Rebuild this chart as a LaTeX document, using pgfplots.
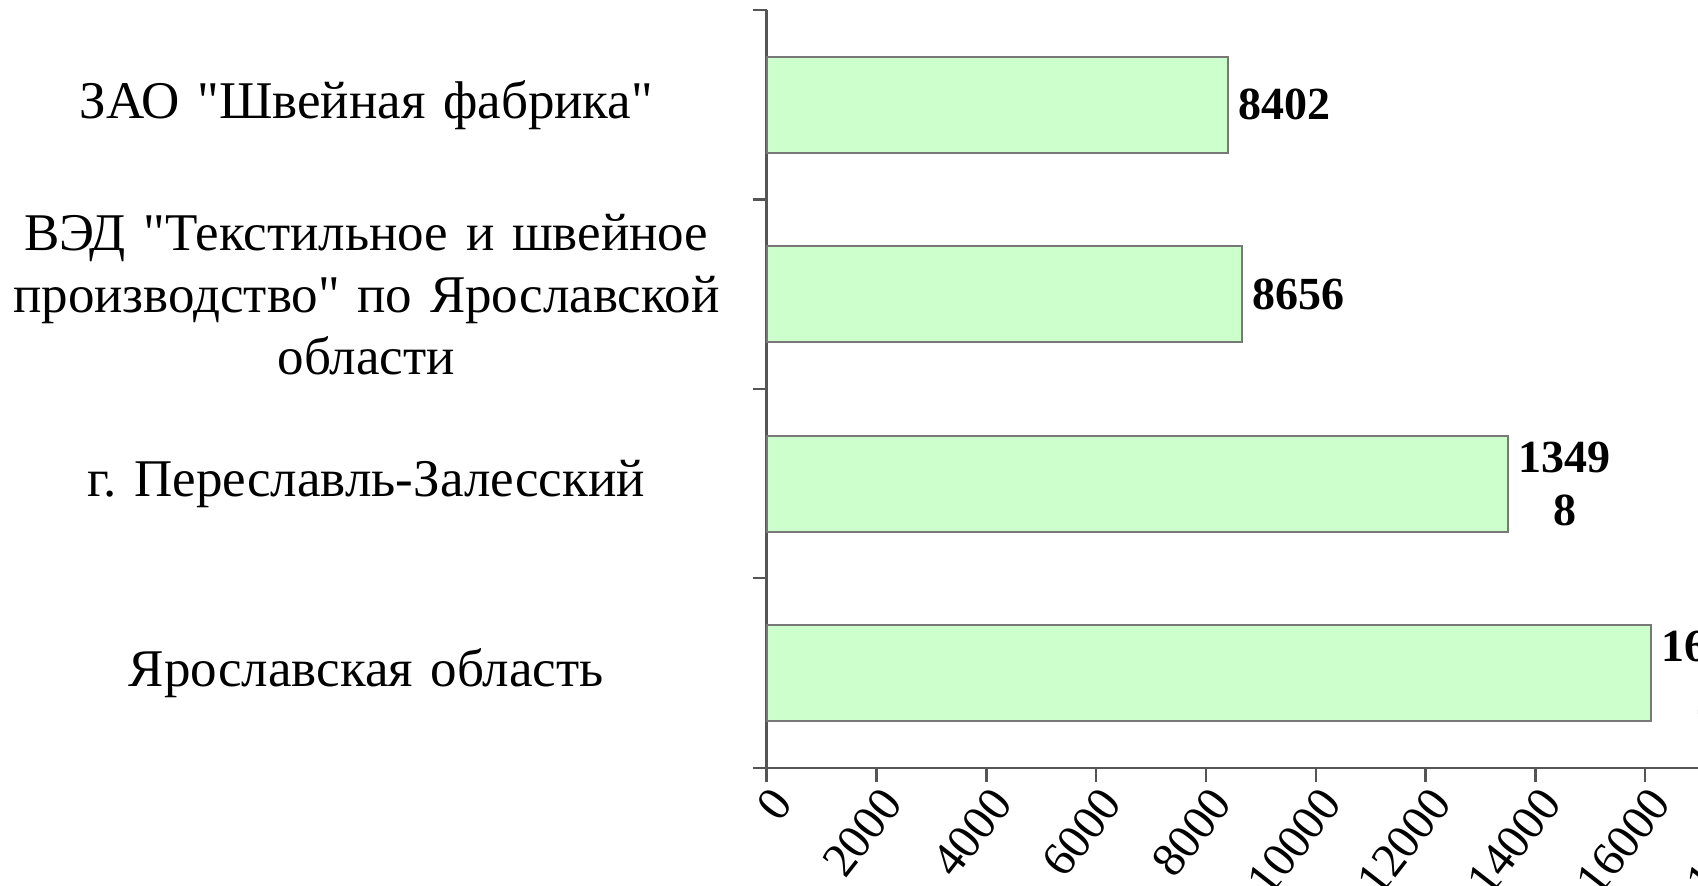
\documentclass[border=0pt]{standalone}
\usepackage{fontspec}
\setmainfont{Liberation Serif}
\usepackage{pgfplots}
\pgfplotsset{compat=1.18}
\frenchspacing
\definecolor{barfill}{RGB}{204,255,204}
\definecolor{baredge}{RGB}{120,120,120}
\definecolor{axisgray}{RGB}{85,85,85}
\newcommand{\q}{\textquotedbl}
\begin{document}
\begin{tikzpicture}
\begin{axis}[
    at={(0,0)}, anchor=south west,
    scale only axis,
    width=247.05pt, height=189.425pt,
    xbar, bar width=24pt,
    xmin=0, xmax=18000,
    ymin=-0.5, ymax=3.5,
    y dir=reverse,
    enlargelimits=false,
    axis lines*=left,
    axis line style={axisgray, line width=0.6pt},
    tick style={axisgray, line width=0.6pt},
    tick align=outside,
    major tick length=3.5pt,
    xtick={0,2000,...,18000},
    scaled x ticks=false,
    xticklabel style={/pgf/number format/assume math mode=true,
        /pgf/number format/1000 sep={},
        font=\fontsize{12pt}{14pt}\selectfont,
        rotate=52, anchor=east, inner sep=0pt, yshift=-5pt},
    ytick={-0.5,0.5,1.5,2.5,3.5},
    yticklabels={},
    extra y ticks={0,1,2,3},
    extra y tick labels={
        {ЗАО \q Швейная фабрика\q},
        {ВЭД \q Текстильное и швейное\\производство\q\ по Ярославской\\области},
        {г. Переславль-Залесский},
        {Ярославская область}},
    extra y tick style={major tick length=0pt,
        yticklabel style={text width=190pt, align=center, inner sep=0pt,
            anchor=east, xshift=-4.9pt,
            font=\fontsize{13.25pt}{15.5pt}\selectfont}},
    point meta=explicit symbolic,
    nodes near coords,
    nodes near coords style={anchor=west, align=center, inner sep=0pt,
        xshift=2.5pt, font=\fontsize{11.5pt}{13.25pt}\selectfont\bfseries},
    clip=false,
]
\addplot[fill=barfill, draw=baredge, line width=0.5pt] coordinates {
    (8402,0) [8402]
    (8656,1) [8656]
    (13498,2) [{1349\\8}]
    (16102,3) [{1610\\2}]
};
\end{axis}
\pgfresetboundingbox
\useasboundingbox (-191.675pt,-29.575pt) rectangle (232.825pt,191.925pt);
\end{tikzpicture}
\end{document}
